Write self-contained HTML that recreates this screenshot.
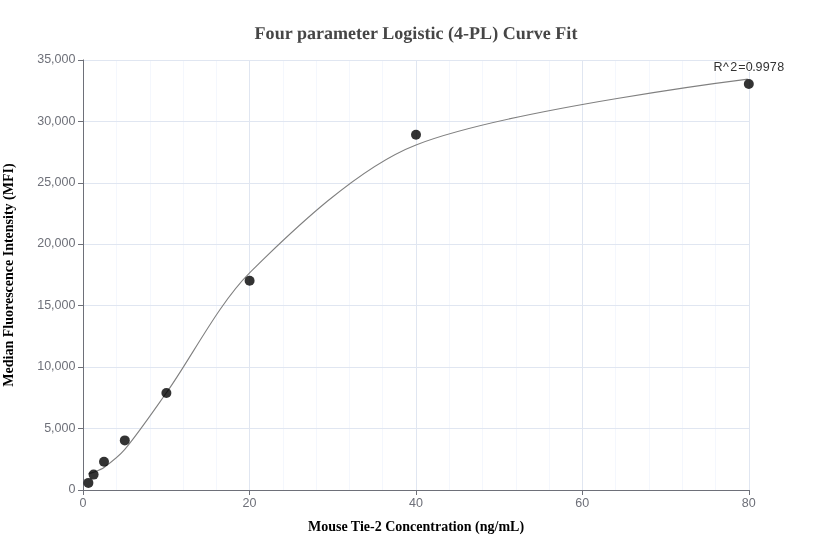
<!DOCTYPE html>
<html lang="en">
<head>
<meta charset="utf-8">
<title>Four parameter Logistic (4-PL) Curve Fit</title>
<style>
html,body{margin:0;padding:0;background:#fff;}
body{width:832px;height:560px;overflow:hidden;}
svg{display:block;}
.tick{font-family:"Liberation Sans",Arial,sans-serif;font-size:12px;fill:#6e7079;}
.name{font-family:"Liberation Serif","Times New Roman",serif;font-weight:bold;font-size:14px;fill:#000;}
.title{font-family:"Liberation Serif","Times New Roman",serif;font-weight:bold;font-size:18px;fill:#464646;text-rendering:geometricPrecision;}
.lab{font-family:"Liberation Sans",Arial,sans-serif;font-size:12px;fill:#333;}
</style>
</head>
<body>
<svg width="832" height="560" viewBox="0 0 832 560">
<rect width="832" height="560" fill="#fff"/>
<g stroke="#f4f7fd" stroke-width="1" shape-rendering="crispEdges">
<line x1="116.5" y1="60" x2="116.5" y2="490"/>
<line x1="150.5" y1="60" x2="150.5" y2="490"/>
<line x1="183.5" y1="60" x2="183.5" y2="490"/>
<line x1="216.5" y1="60" x2="216.5" y2="490"/>
<line x1="283.5" y1="60" x2="283.5" y2="490"/>
<line x1="316.5" y1="60" x2="316.5" y2="490"/>
<line x1="349.5" y1="60" x2="349.5" y2="490"/>
<line x1="382.5" y1="60" x2="382.5" y2="490"/>
<line x1="449.5" y1="60" x2="449.5" y2="490"/>
<line x1="482.5" y1="60" x2="482.5" y2="490"/>
<line x1="516.5" y1="60" x2="516.5" y2="490"/>
<line x1="549.5" y1="60" x2="549.5" y2="490"/>
<line x1="615.5" y1="60" x2="615.5" y2="490"/>
<line x1="649.5" y1="60" x2="649.5" y2="490"/>
<line x1="682.5" y1="60" x2="682.5" y2="490"/>
<line x1="715.5" y1="60" x2="715.5" y2="490"/>
</g>
<g stroke="#e0e6f1" stroke-width="1" shape-rendering="crispEdges">
<line x1="249.5" y1="60" x2="249.5" y2="490"/>
<line x1="416.5" y1="60" x2="416.5" y2="490"/>
<line x1="582.5" y1="60" x2="582.5" y2="490"/>
<line x1="749.5" y1="60" x2="749.5" y2="490"/>
<line x1="83.2" y1="428.5" x2="748.8" y2="428.5"/>
<line x1="83.2" y1="367.5" x2="748.8" y2="367.5"/>
<line x1="83.2" y1="305.5" x2="748.8" y2="305.5"/>
<line x1="83.2" y1="244.5" x2="748.8" y2="244.5"/>
<line x1="83.2" y1="183.5" x2="748.8" y2="183.5"/>
<line x1="83.2" y1="121.5" x2="748.8" y2="121.5"/>
<line x1="83.2" y1="60.5" x2="748.8" y2="60.5"/>
</g>
<g stroke="#6e7079" stroke-width="1" shape-rendering="crispEdges">
<line x1="83.5" y1="59.5" x2="83.5" y2="491" shape-rendering="auto"/>
<line x1="83" y1="490.5" x2="749" y2="490.5"/>
<line x1="83.5" y1="490" x2="83.5" y2="495"/>
<line x1="249.5" y1="490" x2="249.5" y2="495"/>
<line x1="416.5" y1="490" x2="416.5" y2="495"/>
<line x1="582.5" y1="490" x2="582.5" y2="495"/>
<line x1="749.5" y1="490" x2="749.5" y2="495"/>
<line x1="78" y1="490.5" x2="83" y2="490.5"/>
<line x1="78" y1="428.5" x2="83" y2="428.5"/>
<line x1="78" y1="367.5" x2="83" y2="367.5"/>
<line x1="78" y1="305.5" x2="83" y2="305.5"/>
<line x1="78" y1="244.5" x2="83" y2="244.5"/>
<line x1="78" y1="183.5" x2="83" y2="183.5"/>
<line x1="78" y1="121.5" x2="83" y2="121.5"/>
<line x1="78" y1="60.5" x2="83" y2="60.5"/>
</g>
<g class="tick" text-anchor="end">
<text transform="translate(75.5,493) scale(1.045,1)">0</text>
<text transform="translate(75.5,432) scale(1.045,1)">5,000</text>
<text transform="translate(75.5,370) scale(1.045,1)">10,000</text>
<text transform="translate(75.5,309) scale(1.045,1)">15,000</text>
<text transform="translate(75.5,247) scale(1.045,1)">20,000</text>
<text transform="translate(75.5,186) scale(1.045,1)">25,000</text>
<text transform="translate(75.5,125) scale(1.045,1)">30,000</text>
<text transform="translate(75.5,63) scale(1.045,1)">35,000</text>
</g>
<g class="tick" text-anchor="middle">
<text transform="translate(83.1,507) scale(1.045,1)">0</text>
<text transform="translate(249.5,507) scale(1.045,1)">20</text>
<text transform="translate(415.9,507) scale(1.045,1)">40</text>
<text transform="translate(582.3,507) scale(1.045,1)">60</text>
<text transform="translate(748.7,507) scale(1.045,1)">80</text>
</g>
<text class="title" x="416" y="39" text-anchor="middle" textLength="322.8" lengthAdjust="spacing">Four parameter Logistic (4-PL) Curve Fit</text>
<text class="name" x="416" y="531" text-anchor="middle">Mouse Tie-2 Concentration (ng/mL)</text>
<text class="name" transform="translate(13,275) rotate(-90)" text-anchor="middle">Median Fluorescence Intensity (MFI)</text>
<clipPath id="gridclip"><rect x="82.7" y="59" width="665.0" height="432"/></clipPath>
<path d="M88.40,473.60C88.40,473.60 92.11,472.88 93.60,472.30C96.79,471.05 101.25,469.51 104.00,467.50C110.61,462.66 119.53,455.76 124.80,449.45C138.25,433.35 154.23,410.02 166.40,392.80C191.67,357.04 218.88,303.35 249.60,272.84C293.76,228.98 358.76,167.13 416.00,144.90C508.52,108.97 748.80,79.00 748.80,79.00" fill="none" stroke="#808080" stroke-width="1.1" clip-path="url(#gridclip)"/>
<g fill="#000" fill-opacity="0.8">
<circle cx="88.40" cy="482.9" r="5"/>
<circle cx="93.60" cy="474.6" r="5"/>
<circle cx="104.00" cy="461.7" r="5"/>
<circle cx="124.80" cy="440.4" r="5"/>
<circle cx="166.40" cy="393.0" r="5"/>
<circle cx="249.60" cy="280.7" r="5"/>
<circle cx="416.00" cy="134.75" r="5"/>
<circle cx="748.80" cy="84.0" r="5"/>
</g>
<text class="lab" stroke="#fff" stroke-width="2" stroke-linejoin="round" paint-order="stroke" transform="translate(0,71) scale(1.045,1)" x="682.82 691.89 698.73 706.55 713.71 719.95 722.90 729.79 736.68 743.85" y="0">R^2=0.9978</text>
</svg>
</body>
</html>
